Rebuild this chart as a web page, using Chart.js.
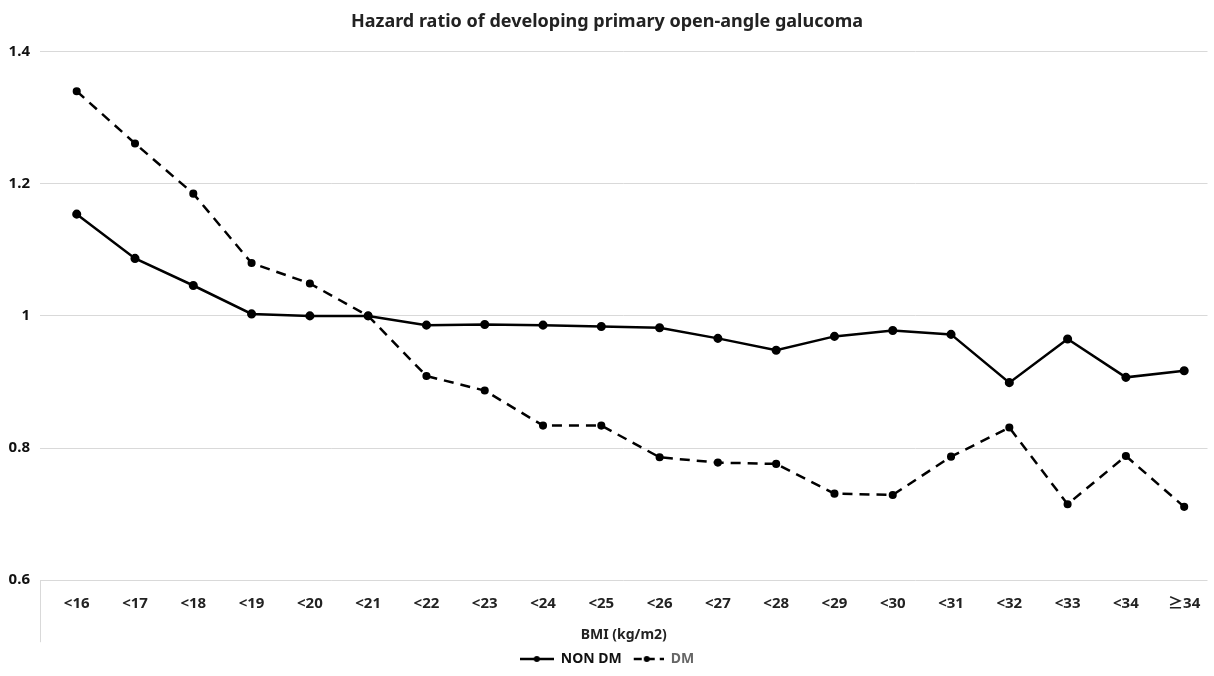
<!DOCTYPE html>
<html>
<head>
<meta charset="utf-8">
<script src="https://cdn.jsdelivr.net/npm/chart.js@4.4.1/dist/chart.umd.min.js"></script>
<style>
  html, body { margin: 0; padding: 0; background: #fff; overflow: hidden; }
  #wrap { width: 1214px; height: 676px; }
</style>
</head>
<body>
<div id="wrap"><canvas id="hrChart"></canvas></div>
<script>
// ==================== DATA ====================
const bmiLabels = ['<16', '<17', '<18', '<19', '<20', '<21', '<22', '<23', '<24', '<25',
                   '<26', '<27', '<28', '<29', '<30', '<31', '<32', '<33', '<34', '≥34'];
const nonDmHR = [1.154, 1.087, 1.046, 1.003, 1.000, 1.000, 0.986, 0.987, 0.986, 0.984,
                 0.982, 0.966, 0.948, 0.969, 0.978, 0.972, 0.899, 0.965, 0.907, 0.917];
const dmHR    = [1.340, 1.261, 1.185, 1.080, 1.049, 1.000, 0.909, 0.887, 0.834, 0.834,
                 0.786, 0.778, 0.776, 0.731, 0.729, 0.787, 0.831, 0.715, 0.788, 0.711];
const yTicks  = [0.6, 0.8, 1, 1.2, 1.4];

const FONT = "'Noto Sans', 'Noto Sans CJK KR', sans-serif";
Chart.defaults.font.family = FONT;
Chart.defaults.color = '#222';

// small legend icons: line with a dot in the middle
function legendIcon(dashed) {
    const c = document.createElement('canvas');
    c.width = 34; c.height = 10;
    const g = c.getContext('2d');
    g.strokeStyle = '#000';
    g.fillStyle = '#000';
    g.lineWidth = 2.5;
    if (dashed) g.setLineDash([8, 5]);
    g.beginPath();
    g.moveTo(dashed ? 4 : 0, 5);
    g.lineTo(34, 5);
    g.stroke();
    g.beginPath();
    g.arc(17, 5, 3, 0, Math.PI * 2);
    g.fill();
    return c;
}

// grey tick line under the left end of the category axis
const axisStub = {
    id: 'axisStub',
    afterDraw(chart) {
        const { ctx, chartArea } = chart;
        ctx.save();
        ctx.strokeStyle = '#d9d9d9';
        ctx.lineWidth = 1;
        ctx.beginPath();
        ctx.moveTo(chartArea.left + 0.5, chartArea.bottom);
        ctx.lineTo(chartArea.left + 0.5, chartArea.bottom + 62);
        ctx.stroke();
        ctx.restore();
    }
};

// ==================== CHART ====================
const ctx = document.getElementById('hrChart').getContext('2d');
const hrChart = new Chart(ctx, {
    type: 'line',
    data: {
        datasets: [
            {
                label: 'NON DM',
                data: bmiLabels.map((b, i) => ({ x: i, y: nonDmHR[i] })),
                borderColor: '#000',
                backgroundColor: '#000',
                borderWidth: 2.5,
                pointRadius: 3.3,
                pointHoverRadius: 4,
                tension: 0,
                fill: false
            },
            {
                label: 'DM',
                data: bmiLabels.map((b, i) => ({ x: i, y: dmHR[i] })),
                borderColor: '#000',
                backgroundColor: '#000',
                borderWidth: 2.5,
                borderDash: [10, 7],
                pointRadius: 2.8,
                pointHoverRadius: 4,
                tension: 0,
                fill: false
            }
        ]
    },
    options: {
        responsive: true,
        maintainAspectRatio: false,
        animation: false,
        layout: { padding: { top: 0, right: 0, bottom: 0, left: 0 } },
        plugins: {
            title: {
                display: true,
                text: 'Hazard ratio of developing primary open-angle galucoma',
                color: '#222',
                font: { size: 18, weight: 'bold' },
                padding: { top: 11, bottom: 19 }
            },
            legend: {
                position: 'bottom',
                labels: {
                    usePointStyle: true,
                    pointStyleWidth: 34,
                    boxHeight: 10,
                    padding: 8,
                    font: { size: 14, weight: 'bold' },
                    generateLabels(chart) {
                        const items = Chart.defaults.plugins.legend.labels.generateLabels(chart);
                        items.forEach((it, i) => {
                            it.pointStyle = legendIcon(i === 1);
                            it.fontColor = i === 1 ? '#666' : '#111';
                        });
                        return items;
                    }
                }
            },
            tooltip: { enabled: true }
        },
        scales: {
            x: {
                type: 'linear',
                min: -0.63,
                max: 19.4,
                afterBuildTicks(scale) {
                    scale.ticks = bmiLabels.map((b, i) => ({ value: i }));
                },
                grid: { display: false },
                border: { display: false },
                ticks: {
                    autoSkip: false,
                    maxRotation: 0,
                    padding: 7,
                    color: '#222',
                    font: { size: 15, weight: 'bold' },
                    callback: (v) => bmiLabels[v]
                },
                title: {
                    display: true,
                    text: 'BMI (kg/m2)',
                    color: '#222',
                    font: { size: 14, weight: 'bold' },
                    padding: { top: 6, bottom: 1 }
                }
            },
            y: {
                min: 0.6,
                max: 1.4,
                afterBuildTicks(scale) {
                    scale.ticks = yTicks.map(v => ({ value: v }));
                },
                afterFit(scale) { scale.width = 40; },
                grid: { color: '#d9d9d9', lineWidth: 1, drawTicks: false },
                border: { display: false },
                ticks: {
                    padding: 10,
                    color: '#111',
                    font: { size: 15, weight: 'bold' },
                    callback: (v) => String(Math.round(v * 10) / 10)
                }
            }
        }
    },
    plugins: [axisStub]
});
</script>
</body>
</html>
